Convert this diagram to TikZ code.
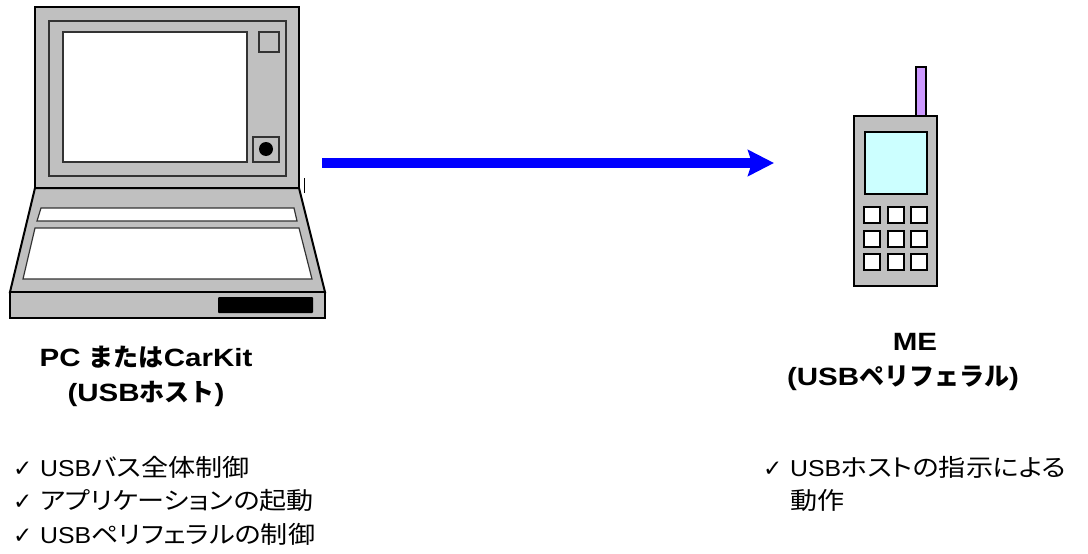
\documentclass[tikz,border=0pt]{standalone}
\usepackage{fontspec}
\usetikzlibrary{arrows.meta}
\setmainfont{Liberation Sans}
\newfontfamily\lat{Liberation Sans}[FakeStretch=1.08]
\newfontfamily\latb{Liberation Sans}[FakeStretch=1.18]
\newfontfamily\jp{Noto Sans CJK JP}[FakeStretch=1.13, RawFeature={+palt}]
\newfontfamily\jpb{Noto Sans CJK JP}
\newfontfamily\chk{DejaVu Sans}
\newcommand\jr[1]{{\jp\fontsize{24pt}{28pt}\selectfont #1}}
\newcommand\jb[1]{{\jpb\bfseries #1}}
\newcommand\tick{\makebox[27pt][l]{\chk\fontsize{23pt}{23pt}\selectfont ✓}}

\definecolor{bodygray}{HTML}{C0C0C0}
\definecolor{linegray}{HTML}{333333}
\definecolor{lcdcyan}{HTML}{CCFFFF}
\definecolor{antlilac}{HTML}{CC99FF}
\definecolor{usbblue}{HTML}{0000FF}

\tikzset{
  outline/.style={draw=black, line width=2pt, fill=bodygray, line join=miter},
  inner/.style={draw=linegray, line width=1.2pt},
  phonepart/.style={draw=black, line width=1.6pt},
  keycap/.style={draw=black, line width=1.4pt, fill=white},
  title/.style={inner sep=0pt, anchor=base, font=\latb\bfseries\fontsize{25pt}{30pt}\selectfont},
  item/.style={inner sep=0pt, anchor=base west, font=\lat\fontsize{23pt}{28pt}\selectfont},
  usblink/.style={draw=usbblue, line width=10pt,
    -{Stealth[length=26pt, width=26pt, inset=4pt]}},
}

\begin{document}
\begin{tikzpicture}[x=1pt, y=-1pt]
\useasboundingbox (0,0) rectangle (1088,554);

% ---- laptop: lid ----
\draw[outline] (35,7) rectangle (299,188);
\draw[inner, fill=bodygray] (49,21) rectangle (286,176);
\draw[inner, fill=white] (63,32) rectangle (247,162);
\draw[inner, fill=bodygray] (259,32) rectangle (279,52);
\draw[inner, fill=bodygray] (253,137) rectangle (279,162);
\fill[black] (266,149) circle (7);
% ---- laptop: base and keyboard ----
\draw[outline] (35,188) -- (299,188) -- (325,292) -- (10,292) -- cycle;
\draw[inner, fill=white] (41,208) -- (294,208) -- (297,221) -- (37,221) -- cycle;
\draw[inner, fill=white] (35,228) -- (299,228) -- (312,279) -- (23,279) -- cycle;
\draw[outline] (10,292) rectangle (325,318);
\fill[black, rounded corners=1pt] (218,297) rectangle (313,313);
\draw[black, line width=0.8pt] (304.5,178) -- (304.5,193);

% ---- phone ----
\draw[phonepart, fill=antlilac] (916,67) rectangle (926,116);
\draw[phonepart, fill=bodygray] (854,116) rectangle (937,286);
\draw[phonepart, fill=lcdcyan] (865,132) rectangle (927,194);
\foreach \kx in {864,888,911}
  \foreach \ky in {207,231,254}
    \draw[keycap] (\kx,\ky) rectangle ++(16,16);

% ---- USB link ----
\coordinate (usbFrom) at (322,163);
\coordinate (usbTo) at (774,163);
\draw[usblink] (usbFrom) -- (usbTo);

% ---- host labels ----
\node[title] (pcname) at (146,366) {PC \jb{または}CarKit};
\node[title] (pchost) at (146,401) {(USB\jb{ホスト})};
\node[item] (pc1) at (13,476) {\tick USB\jr{バス全体制御}};
\node[item] (pc2) at (13,509.5) {\tick \jr{アプリケーションの起動}};
\node[item] (pc3) at (13,543) {\tick USB\jr{ペリフェラルの制御}};

% ---- device labels ----
\node[title] (mename) at (915,350) {ME};
\node[title] (meperi) at (903,385) {(USB\jb{ペリフェラル})};
\node[item] (me1) at (763,476) {\tick USB\jr{ホストの指示による}};
\node[item] (me2) at (790,509.5) {\jr{動作}};
\end{tikzpicture}
\end{document}
